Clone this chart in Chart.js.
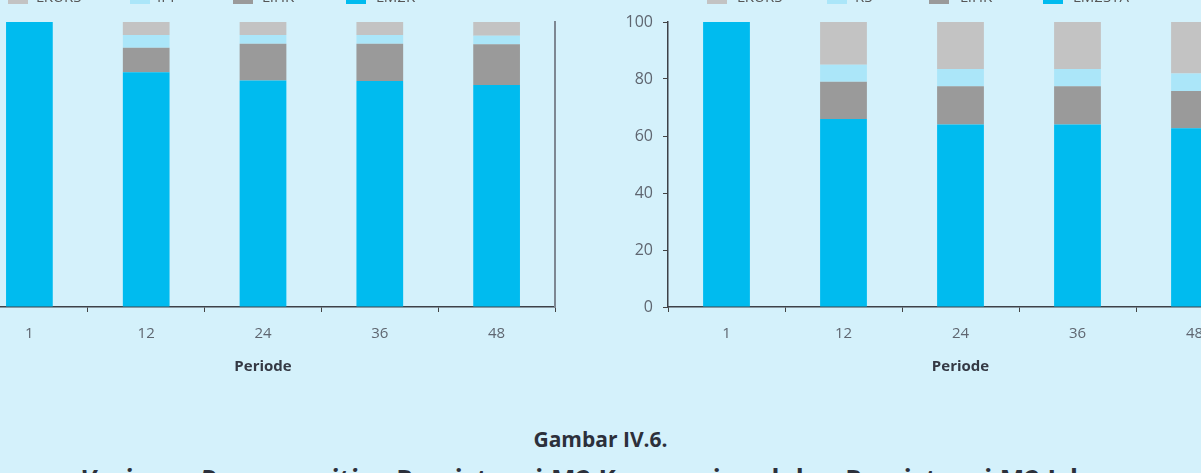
<!DOCTYPE html>
<html>
<head>
<meta charset="utf-8">
<script src="https://cdn.jsdelivr.net/npm/chart.js@4"></script>
<style>
  html, body { margin: 0; padding: 0; }
  body {
    width: 1201px; height: 473px; overflow: hidden; position: relative;
    background: #d4f1fb; font-family: "Open Sans", sans-serif;
  }
  canvas { position: absolute; top: 0; }
  #chartKonv { left: -97px; }
  #chartIslam { left: 600px; }
  .legend { position: absolute; top: -11px; height: 16px; }
  .legend span { position: absolute; top: 0; font-size: 15px; color: #555; line-height: 15px; white-space: nowrap; }
  .legend i { position: absolute; top: 3px; width: 20px; height: 12px; }
  .caption { position: absolute; left: 0; width: 1201px; text-align: center; color: #2c303b; font-weight: bold; white-space: nowrap; }
</style>
</head>
<body>
<canvas id="chartKonv" width="660" height="400"></canvas>
<canvas id="chartIslam" width="660" height="400"></canvas>
<div class="legend" id="legendKonv"></div>
<div class="legend" id="legendIslam"></div>
<div class="caption" style="top:425px;font-size:21px;">Gambar IV.6.</div>
<div class="caption" style="top:461px;font-size:26px;letter-spacing:0.5px;"><em>Variance Decomposition</em> Persistensi M2 Konvensional dan Persistensi M2 Islam</div>
<script>
const periods = ["1", "12", "24", "36", "48"];
const yTicks = [0, 20, 40, 60, 80, 100];

// stacked from the bottom up
const konvLabels = ["LM2K", "LIHK", "IPI", "LKURS"];
const konvM2 = [100, 82.4, 79.5, 79.3, 77.9];
const konvIhk = [0, 8.6, 12.9, 13.1, 14.3];
const konvIpi = [0, 4.4, 3.0, 3.0, 3.0];
const konvKurs = [0, 4.6, 4.6, 4.6, 4.8];

const islamLabels = ["LM2SYA", "LIHK", "RS", "LKURS"];
const islamM2 = [100, 66.0, 64.0, 64.0, 62.7];
const islamIhk = [0, 13.0, 13.5, 13.5, 13.1];
const islamRs = [0, 6.0, 6.0, 6.0, 6.1];
const islamKurs = [0, 15.0, 16.5, 16.5, 18.1];

const colors = ["#00bbef", "#9a9a9a", "#abe6f9", "#c3c3c3"];

function makeChart(id, labels, series, rightBorder) {
    const datasets = series.map((data, i) => ({
        label: labels[i],
        data: data,
        backgroundColor: colors[i],
        borderWidth: 0,
        barPercentage: 0.4,
        categoryPercentage: 1.0
    }));
    const scales = {
        x: {
            stacked: true,
            afterFit: (axis) => { axis.height = 93; },
            grid: { offset: true, drawOnChartArea: false, tickLength: 5, color: "#444" },
            border: { color: "#3d4148", width: 1.5 },
            ticks: { color: "#5f6670", padding: 13, font: { family: "Open Sans", size: 15 } },
            title: {
                display: true, text: "Periode", color: "#343944",
                font: { family: "Open Sans", size: 15, weight: "bold" },
                padding: { top: 4, bottom: 24 }
            }
        },
        y: {
            stacked: true,
            min: 0, max: 100,
            afterFit: (axis) => { axis.width = 68; },
            afterBuildTicks: (axis) => { axis.ticks = yTicks.map(v => ({ value: v })); },
            grid: { drawOnChartArea: false, tickLength: 5, color: "#444" },
            border: { color: "#3d4148", width: 1.5 },
            ticks: { color: "#5f6670", padding: 10, font: { family: "Open Sans", size: 16 } }
        }
    };
    if (rightBorder) {
        scales.yRight = {
            position: "right",
            min: 0, max: 100,
            afterFit: (axis) => { axis.width = 0; },
            grid: { drawOnChartArea: false, drawTicks: false },
            border: { color: "#7d8792", width: 2 },
            ticks: { display: false }
        };
    }
    return new Chart(document.getElementById(id), {
        type: "bar",
        data: { labels: periods, datasets: datasets },
        options: {
            responsive: false,
            animation: false,
            layout: { padding: { top: 22, right: rightBorder ? 8 : 7, left: 0, bottom: 0 } },
            plugins: { legend: { display: false }, tooltip: { enabled: false } },
            scales: scales
        }
    });
}

function makeLegend(id, labels, x0, boxX, textX) {
    const el = document.getElementById(id);
    el.style.left = x0 + "px";
    // legend reads from the top segment down
    for (let k = 0; k < labels.length; k++) {
        const i = labels.length - 1 - k;
        const box = document.createElement("i");
        box.style.left = boxX[k] + "px";
        box.style.background = colors[i];
        const txt = document.createElement("span");
        txt.style.left = textX[k] + "px";
        txt.textContent = labels[i];
        el.appendChild(box);
        el.appendChild(txt);
    }
}

makeChart("chartKonv", konvLabels, [konvM2, konvIhk, konvIpi, konvKurs], true);
makeChart("chartIslam", islamLabels, [islamM2, islamIhk, islamRs, islamKurs], false);
makeLegend("legendKonv", konvLabels, 0, [8, 130, 233, 346], [36, 157, 262, 376]);
makeLegend("legendIslam", islamLabels, 699, [8, 128, 230, 344], [38, 156, 261, 374]);
</script>
</body>
</html>
